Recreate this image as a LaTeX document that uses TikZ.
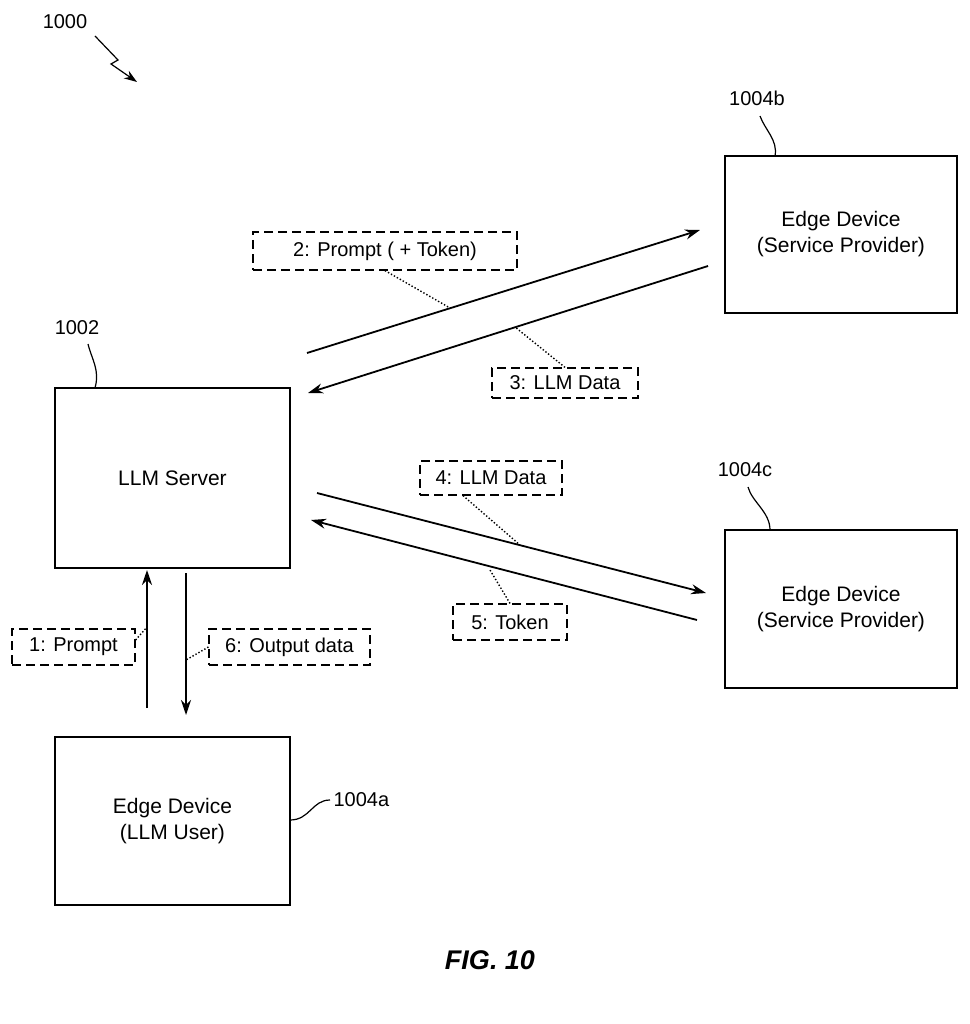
\documentclass[tikz,border=0pt]{standalone}
\usepackage{fontspec}
\setmainfont{Liberation Sans}
\usetikzlibrary{arrows.meta}
\begin{document}
\begin{tikzpicture}[x=1pt,y=-1pt,
  box/.style={draw,line width=1.6pt,align=center,font=\fontsize{21}{26}\selectfont},
  lab/.style={draw,dashed,line width=1.2pt,dash pattern=on 9pt off 5pt,inner sep=0pt,font=\fontsize{20}{24}\selectfont},
  arr/.style={line width=1.8pt,-{Stealth[length=15pt,width=10pt]}},
  lead/.style={dotted,line width=1.4pt},
  ref/.style={font=\fontsize{20}{24}\selectfont},
  curl/.style={line width=1.2pt}]
\useasboundingbox (0,0) rectangle (969,1024);
\fill[white] (0,0) rectangle (969,1024);
% boxes
\node[box,minimum width=235pt,minimum height=180pt] (srv) at (172.5,478) {LLM Server};
\node[box,minimum width=235pt,minimum height=168pt] (ea) at (172.5,821) {Edge Device\\(LLM User)};
\node[box,minimum width=232pt,minimum height=157pt] (eb) at (841,234.5) {Edge Device\\(Service Provider)};
\node[box,minimum width=232pt,minimum height=158pt] (ec) at (841,609) {Edge Device\\(Service Provider)};
% arrows
\coordinate (a1s) at (147,708); \coordinate (a1e) at (147,570);
\coordinate (a6s) at (186,573); \coordinate (a6e) at (186,715);
\coordinate (a2s) at (307,353); \coordinate (a2e) at (700,230);
\coordinate (a3s) at (708,266); \coordinate (a3e) at (308,393);
\coordinate (a4s) at (317,493); \coordinate (a4e) at (706,593);
\coordinate (a5s) at (697,620); \coordinate (a5e) at (311,520);
\draw[arr] (a1s) -- (a1e);
\draw[arr] (a6s) -- (a6e);
\draw[arr] (a2s) -- (a2e);
\draw[arr] (a3s) -- (a3e);
\draw[arr] (a4s) -- (a4e);
\draw[arr] (a5s) -- (a5e);
% labels
\node[lab,minimum width=264pt,minimum height=38pt] (l2) at (385,251) {2: Prompt ( + Token)};
\node[lab,minimum width=146pt,minimum height=30pt] (l3) at (565,383) {3: LLM Data};
\node[lab,minimum width=142pt,minimum height=34pt] (l4) at (491,478) {4: LLM Data};
\node[lab,minimum width=114pt,minimum height=36pt] (l5) at (510,622) {5: Token};
\node[lab,minimum width=123pt,minimum height=36pt] (l1) at (73.5,647) {1: Prompt};
\node[lab,minimum width=161pt,minimum height=36pt] (l6) at (289.5,647) {6: Output data};
\coordinate (p2) at (450,308); \coordinate (p3) at (515,327);
\coordinate (p4) at (520,545); \coordinate (p5) at (490,570);
\coordinate (p1) at (147,627); \coordinate (p6) at (186,660);
\draw[lead] (l2.south) -- (p2);
\draw[lead] (l3.north) -- (p3);
\draw[lead] (l4.south) ++(-28,0) -- (p4);
\draw[lead] (l5.north) -- (p5);
\draw[lead] (l1.east) ++(0,-7) -- (p1);
\draw[lead] (l6.west) -- (p6);
% reference labels
\node[ref] (r1000) at (65,22) {1000};
\coordinate (z1) at (95,36); \coordinate (z2) at (137,82);
\draw[curl,-{Stealth[length=13pt,width=9pt]}] (z1) -- (118,60) -- (111,64) -- (z2);
\node[ref] (r1002) at (77,328) {1002};
\draw[curl] (88,344) .. controls (92,360) and (100,370) .. (95,388);
\node[ref] (r1004b) at (757,98) {1004b};
\draw[curl] (760,116) .. controls (765,130) and (778,140) .. (775,156);
\node[ref] (r1004c) at (745,470) {1004c};
\draw[curl] (748,487) .. controls (752,502) and (770,512) .. (770,530);
\node[ref,anchor=west] (r1004a) at (330,800) {1004a};
\draw[curl] (290,820) .. controls (310,820) and (312,800) .. (r1004a.west);
\node[font=\bfseries\itshape\fontsize{27}{31}\selectfont] (fig) at (490,960) {FIG. 10};
\end{tikzpicture}
\end{document}
